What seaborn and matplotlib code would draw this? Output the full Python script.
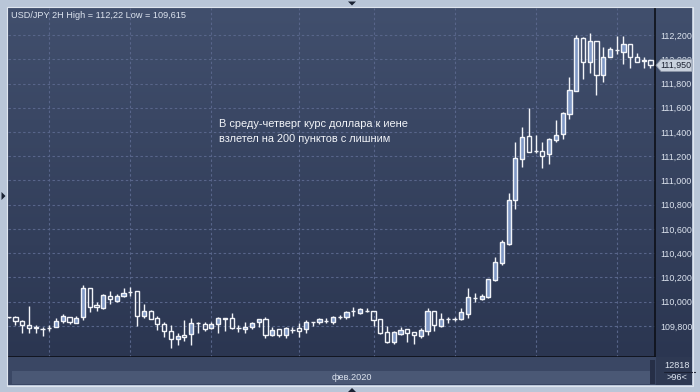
import numpy as np
import matplotlib.pyplot as plt
import seaborn as sns
from matplotlib.patches import Rectangle, Polygon
from matplotlib.transforms import blended_transform_factory

# USD/JPY 2H, 96 candles
opens = [109.871, 109.871, 109.840, 109.807, 109.791, 109.775, 109.780, 109.788, 109.838, 109.871,
         109.827, 109.871, 110.110, 109.975, 109.950, 110.044, 110.008, 110.044, 110.080, 110.085,
         109.879, 109.920, 109.862, 109.813, 109.755, 109.689, 109.722, 109.730, 109.827, 109.813,
         109.785, 109.813, 109.862, 109.862, 109.780, 109.772, 109.788, 109.829, 109.854, 109.722,
         109.772, 109.722, 109.766, 109.780, 109.772, 109.835, 109.829, 109.840, 109.835, 109.876,
         109.871, 109.920, 109.909, 109.926, 109.920, 109.854, 109.750, 109.670, 109.736, 109.772,
         109.747, 109.719, 109.761, 109.923, 109.802, 109.857, 109.855, 109.857, 109.901, 110.033,
         110.019, 110.036, 110.176, 110.322, 110.476, 110.836, 111.180, 111.364, 111.244, 111.243,
         111.216, 111.337, 111.381, 111.546, 111.741, 112.173, 111.975, 112.151, 111.868, 112.016,
         112.076, 112.063, 112.126, 112.016, 111.990, 111.991]
highs = [109.876, 109.882, 109.849, 109.964, 109.807, 109.794, 109.807, 109.862, 109.895, 109.871,
         109.882, 110.137, 110.110, 110.000, 110.063, 110.088, 110.060, 110.110, 110.118, 110.085,
         109.981, 109.931, 109.884, 109.835, 109.807, 109.739, 109.849, 109.862, 109.835, 109.835,
         109.835, 109.871, 109.862, 109.909, 109.807, 109.835, 109.835, 109.854, 109.871, 109.794,
         109.772, 109.788, 109.794, 109.827, 109.849, 109.835, 109.862, 109.862, 109.882, 109.890,
         109.926, 109.953, 109.948, 109.948, 109.920, 109.854, 109.799, 109.758, 109.788, 109.772,
         109.747, 109.780, 109.945, 109.923, 109.904, 109.876, 109.876, 109.945, 110.110, 110.069,
         110.061, 110.190, 110.366, 110.509, 110.894, 111.315, 111.439, 111.598, 111.375, 111.315,
         111.348, 111.499, 111.562, 111.856, 112.200, 112.181, 112.220, 112.151, 112.099, 112.104,
         112.192, 112.192, 112.126, 112.049, 112.016, 111.991]
lows = [109.865, 109.807, 109.744, 109.744, 109.744, 109.719, 109.758, 109.788, 109.827, 109.813,
        109.821, 109.849, 109.917, 109.926, 109.939, 109.983, 109.994, 110.036, 110.049, 109.802,
        109.868, 109.854, 109.766, 109.711, 109.615, 109.642, 109.678, 109.642, 109.739, 109.758,
        109.772, 109.739, 109.758, 109.772, 109.747, 109.744, 109.772, 109.794, 109.697, 109.717,
        109.711, 109.697, 109.739, 109.711, 109.744, 109.799, 109.813, 109.821, 109.816, 109.854,
        109.860, 109.882, 109.895, 109.915, 109.799, 109.730, 109.662, 109.653, 109.722, 109.667,
        109.651, 109.697, 109.725, 109.761, 109.788, 109.827, 109.843, 109.849, 109.862, 110.000,
        110.014, 110.030, 110.168, 110.306, 110.468, 110.768, 111.114, 111.238, 111.230, 111.106,
        111.139, 111.320, 111.342, 111.510, 111.741, 111.837, 111.890, 111.705, 111.810, 112.016,
        112.041, 111.958, 111.925, 111.975, 111.925, 111.925]
closes = [109.871, 109.843, 109.805, 109.785, 109.780, 109.774, 109.780, 109.840, 109.882, 109.829,
          109.862, 110.110, 109.959, 109.953, 110.055, 110.019, 110.047, 110.069, 110.080, 109.879,
          109.920, 109.857, 109.813, 109.761, 109.689, 109.714, 109.711, 109.821, 109.827, 109.777,
          109.813, 109.862, 109.854, 109.780, 109.780, 109.794, 109.827, 109.854, 109.722, 109.766,
          109.722, 109.780, 109.766, 109.761, 109.829, 109.832, 109.854, 109.840, 109.871, 109.876,
          109.915, 109.920, 109.937, 109.926, 109.849, 109.744, 109.670, 109.750, 109.763, 109.744,
          109.725, 109.766, 109.923, 109.805, 109.854, 109.857, 109.858, 109.915, 110.036, 110.033,
          110.047, 110.185, 110.325, 110.490, 110.836, 111.183, 111.356, 111.238, 111.241, 111.205,
          111.340, 111.373, 111.554, 111.746, 112.173, 111.975, 112.151, 111.868, 112.016, 112.082,
          112.076, 112.126, 112.016, 111.980, 111.987, 111.950]

day_pos = [6, 18, 30, 43, 54, 66, 78, 90]
day_labels = ['12', '13', '14', '17', '18', '19', '20', '21']
price_ticks = [109.8, 110.0, 110.2, 110.4, 110.6, 110.8, 111.0, 111.2, 111.4, 111.6, 111.8, 112.0, 112.2]
last_price = 111.950

sns.set_style('dark')
plt.rcParams['font.family'] = ['Liberation Sans', 'DejaVu Sans']

outer = '#b9c6d8'
txt = '#dde4ef'
bull = '#7f98c6'
wick = '#f2f4f8'
grid_c = '#58658a'

W, H = 700, 392
def fx(px):
    return px / W
def fy(py):
    return 1 - py / H

fig = plt.figure(figsize=(7, 3.92), dpi=100, facecolor=outer)

# panel background with gradient
bg = fig.add_axes([fx(8), fy(357), fx(684), (357 - 8) / H])
bg.set_axis_off()
grad = np.linspace(0, 1, 256).reshape(-1, 1)
top_c = np.array([0x41, 0x4f, 0x6d]) / 255
bot_c = np.array([0x2b, 0x36, 0x51]) / 255
img = top_c * (1 - grad[..., None]) + bot_c * grad[..., None]
bg.imshow(img, aspect='auto', extent=[0, 1, 0, 1])
bg.set_xlim(0, 1)
bg.set_ylim(0, 1)

# bottom axis strip
fig.patches.append(Rectangle((fx(8), fy(385)), fx(684), 28 / H, transform=fig.transFigure,
                             facecolor='#3a4764', edgecolor='none', zorder=0))
fig.patches.append(Rectangle((fx(12), fy(384)), fx(638), 13 / H, transform=fig.transFigure,
                             facecolor='#4a5875', edgecolor='none', zorder=1))
fig.patches.append(Rectangle((fx(650), fy(384)), fx(5), 24 / H, transform=fig.transFigure,
                             facecolor='#262f47', edgecolor='none', zorder=1))
fig.patches.append(Rectangle((fx(656), fy(385)), fx(36), 28 / H, transform=fig.transFigure,
                             facecolor='#2e3953', edgecolor='none', zorder=1))
# panel frame
fig.patches.append(Rectangle((fx(7), fy(386)), fx(686), 379 / H, transform=fig.transFigure,
                             facecolor='none', edgecolor='#dfe6ef', linewidth=0.8, zorder=5))

ax = fig.add_axes([fx(8), fy(357), fx(647), (357 - 8) / H])
ax.patch.set_alpha(0)
x = np.arange(len(opens))
o = np.array(opens)
c = np.array(closes)
hi = np.array(highs)
lo = np.array(lows)
top = np.maximum(o, c)
bot = np.minimum(o, c)

ax.vlines(x, top, hi, color=wick, linewidth=1, zorder=3)
ax.vlines(x, lo, bot, color=wick, linewidth=1, zorder=3)
up = c > o
ax.bar(x[up], (c - o)[up], bottom=o[up], width=0.62, color=bull,
       edgecolor=wick, linewidth=1, zorder=4)
ax.bar(x[~up], (o - c)[~up], bottom=c[~up], width=0.62, color='none',
       edgecolor=wick, linewidth=1, zorder=4)

ax.set_xlim(-0.11, 95.67)
ax.set_ylim(109.544, 112.423)

ax.set_yticks(price_ticks)
ax.set_yticklabels([f'{v:.3f}'.replace('.', ',') for v in price_ticks])
ax.yaxis.tick_right()
ax.set_xticks(day_pos)
ax.set_xticklabels(day_labels)
ax.tick_params(axis='y', length=0, pad=3.5, labelsize=6.4, colors=txt)
ax.tick_params(axis='x', length=0, pad=3.5, labelsize=6.6, colors=txt)
ax.grid(True, color=grid_c, linestyle=(0, (2.2, 2.2)), linewidth=0.8)
ax.set_axisbelow(True)

for s in ['left', 'top']:
    ax.spines[s].set_visible(False)
for s in ['right', 'bottom']:
    ax.spines[s].set_color('#0d1018')
    ax.spines[s].set_linewidth(1.2)

# current price tag
tr = blended_transform_factory(fig.transFigure, ax.transData)
tag = Polygon([(fx(656), last_price), (fx(661), last_price + 0.05), (fx(692), last_price + 0.05),
               (fx(692), last_price - 0.05), (fx(661), last_price - 0.05)],
              closed=True, transform=tr, facecolor='#c9d1dd', edgecolor='#8d97a8',
              linewidth=0.6, clip_on=False, zorder=10)
ax.add_patch(tag)
ax.text(fx(676), last_price, f'{last_price:.3f}'.replace('.', ','), transform=tr, fontsize=6.4,
        color='#1c2232', ha='center', va='center', zorder=11, clip_on=False)

# title and note
fig.text(fx(11), fy(16), 'USD/JPY 2H High = 112,22 Low = 109,615', fontsize=6.6, color=txt, va='center')
fig.text(fx(219), fy(124), 'В среду-четверг курс доллара к иене', fontsize=7.9, color='#f2f4f8', va='center')
fig.text(fx(219), fy(139), 'взлетел на 200 пунктов с лишним', fontsize=7.9, color='#f2f4f8', va='center')

fig.text(fx(352), fy(378), 'фев.2020', fontsize=6.6, color=txt, ha='center', va='center')
fig.text(fx(677), fy(365), '12818', fontsize=6.6, color=txt, ha='center', va='center')
fig.lines.append(plt.Line2D([fx(664), fx(695)], [fy(371.5), fy(371.5)], transform=fig.transFigure,
                            color='#1b2133', linewidth=0.8))
fig.text(fx(677), fy(378), '>96<', fontsize=6.6, color=txt, ha='center', va='center')

# small scroll arrows
fig.patches.append(Polygon([(fx(348), fy(1.5)), (fx(356), fy(1.5)), (fx(352), fy(5.5))], closed=True,
                           transform=fig.transFigure, facecolor='#1a2233', edgecolor='none'))
fig.patches.append(Polygon([(fx(348), fy(392)), (fx(356), fy(392)), (fx(352), fy(388))], closed=True,
                           transform=fig.transFigure, facecolor='#1a2233', edgecolor='none'))
fig.patches.append(Polygon([(fx(1.5), fy(192)), (fx(1.5), fy(200)), (fx(5.5), fy(196))], closed=True,
                           transform=fig.transFigure, facecolor='#1a2233', edgecolor='none'))

plt.savefig('out.png', dpi=100, facecolor=outer)
